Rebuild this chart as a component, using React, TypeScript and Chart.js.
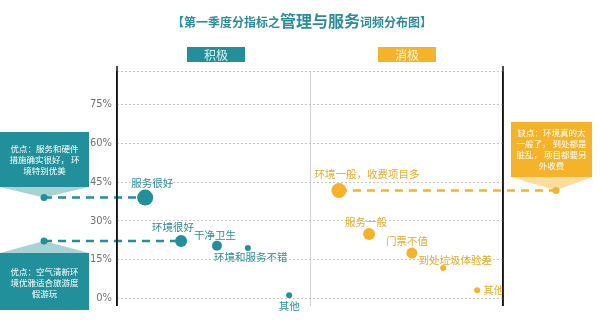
import React, { useEffect, useRef } from 'react';
import { Chart, registerables } from 'chart.js';

Chart.register(...registerables);

// ---------- data ----------
const positiveLabels = ['服务很好', '环境很好', '干净卫生', '环境和服务不错', '其他'];
const positiveX = [0.73, 1.66, 2.59, 3.39, 4.46];
const positiveY = [39, 22.2, 20.3, 19.5, 1.2];
const positiveWeight = [8, 6, 5, 3, 3];

const negativeLabels = ['环境一般，收费项目多', '服务一般', '门票不值', '到处垃圾体验差', '其他'];
const negativeX = [5.75, 6.53, 7.64, 8.45, 9.33];
const negativeY = [41.7, 24.9, 17.5, 11.7, 3.1];
const negativeWeight = [7.5, 6, 5.5, 3, 3];

const yTicks = [0, 15, 30, 45, 60, 75];
const yTop = 88;
const titleParts = ['【第一季度分指标之', '管理与服务', '词频分布图】'];
const legendNames = ['积极', '消极'];
const calloutPos1 = ['优点：服务和硬件', '措施确实很好， 环', '境特别优美'];
const calloutPos2 = ['优点：空气清新环', '境优雅适合旅游度', '假游玩'];
const calloutNeg = ['缺点：环境真的太', '一般了， 到处都是', '脏乱， 项目都要另', '外收费'];

// ---------- styles ----------
const TEAL = '#22909b';
const TEAL_TEXT = '#2a8d99';
const ORANGE = '#f5b32a';
const ORANGE_TEXT = '#e8ab2c';
const CJK = '"Noto Sans CJK SC", "Noto Sans", sans-serif';

// label offsets [dx, dy, align]
const posLabelOffsets: [number, number, CanvasTextAlign][] = [
  [7, -15, 'center'], [-8, -14, 'center'], [-2, -11, 'center'], [3, 9, 'center'], [0, 11, 'center'],
];
const negLabelOffsets: [number, number, CanvasTextAlign][] = [
  [28, -17, 'center'], [-3, -12, 'center'], [-5, -12, 'center'], [12, -8, 'center'], [6, 0, 'left'],
];

const overlayPlugin = {
  id: 'overlay',
  beforeDatasetsDraw(chart: any) {
    const ctx = chart.ctx;
    const p = chart.getDatasetMeta(0).data;
    const n = chart.getDatasetMeta(1).data;
    ctx.save();
    ctx.lineWidth = 2.5;
    ctx.setLineDash([8, 6]);
    ctx.strokeStyle = TEAL;
    [p[0], p[1]].forEach((pt: any) => {
      ctx.beginPath();
      ctx.moveTo(44, pt.y);
      ctx.lineTo(pt.x, pt.y);
      ctx.stroke();
    });
    ctx.strokeStyle = ORANGE;
    ctx.beginPath();
    ctx.moveTo(n[0].x, n[0].y);
    ctx.lineTo(556, n[0].y);
    ctx.stroke();
    ctx.setLineDash([]);
    ctx.fillStyle = TEAL;
    [p[0], p[1]].forEach((pt: any) => {
      ctx.beginPath();
      ctx.arc(44, pt.y, 3.5, 0, Math.PI * 2);
      ctx.fill();
    });
    ctx.fillStyle = ORANGE;
    ctx.beginPath();
    ctx.arc(556, n[0].y, 3.5, 0, Math.PI * 2);
    ctx.fill();
    ctx.restore();
  },
  afterDatasetsDraw(chart: any) {
    const ctx = chart.ctx;
    const p = chart.getDatasetMeta(0).data;
    const n = chart.getDatasetMeta(1).data;
    ctx.save();
    ctx.textBaseline = 'middle';
    ctx.font = `10.5px ${CJK}`;
    ctx.fillStyle = TEAL_TEXT;
    positiveLabels.forEach((lab, i) => {
      const [dx, dy, al] = posLabelOffsets[i];
      ctx.textAlign = al;
      ctx.fillText(lab, p[i].x + dx, p[i].y + dy);
    });
    ctx.fillStyle = ORANGE_TEXT;
    negativeLabels.forEach((lab, i) => {
      const [dx, dy, al] = negLabelOffsets[i];
      ctx.textAlign = al;
      ctx.fillText(lab, n[i].x + dx, n[i].y + dy);
    });

    // title
    const sizes = [12, 16, 12];
    let total = 0;
    const widths = titleParts.map((t, i) => {
      ctx.font = `bold ${sizes[i]}px ${CJK}`;
      const w = ctx.measureText(t).width;
      total += w;
      return w;
    });
    let x = 300 - total / 2 + 2;
    ctx.fillStyle = TEAL_TEXT;
    ctx.textAlign = 'left';
    ctx.textBaseline = 'alphabetic';
    titleParts.forEach((t, i) => {
      ctx.font = `bold ${sizes[i]}px ${CJK}`;
      ctx.fillText(t, x, 27);
      x += widths[i];
    });

    // legend boxes
    const boxes = [
      { x: 187, c: TEAL },
      { x: 378, c: ORANGE },
    ];
    boxes.forEach((b, i) => {
      ctx.fillStyle = b.c;
      ctx.fillRect(b.x, 47, 58, 15);
      ctx.fillStyle = 'rgba(255,255,255,0.85)';
      ctx.font = `12px ${CJK}`;
      ctx.textAlign = 'center';
      ctx.textBaseline = 'middle';
      ctx.fillText(legendNames[i], b.x + 29, 55);
    });

    // callouts
    const drawCallout = (
      bx: number, by: number, bw: number, bh: number, color: string, light: string,
      tri: [number, number][], lines: string[], ly: number, lh: number,
    ) => {
      ctx.fillStyle = light;
      ctx.beginPath();
      ctx.moveTo(tri[0][0], tri[0][1]);
      ctx.lineTo(tri[1][0], tri[1][1]);
      ctx.lineTo(tri[2][0], tri[2][1]);
      ctx.closePath();
      ctx.fill();
      ctx.fillStyle = color;
      ctx.fillRect(bx, by, bw, bh);
      ctx.fillStyle = '#ffffff';
      ctx.font = `8.5px ${CJK}`;
      ctx.textAlign = 'center';
      ctx.textBaseline = 'middle';
      lines.forEach((l, i) => ctx.fillText(l, bx + bw / 2, ly + i * lh));
    };
    const y0 = p[0].y;
    const y1 = p[1].y;
    const yn = n[0].y;
    drawCallout(0, 132, 89, 55, TEAL, 'rgba(34,144,155,0.4)',
      [[0, 187], [89, 187], [44, y0]], calloutPos1, 149, 11);
    drawCallout(0, 253, 89, 57, TEAL, 'rgba(34,144,155,0.4)',
      [[0, 253], [89, 253], [44, y1]], calloutPos2, 272, 11);
    drawCallout(511, 122, 81, 55, ORANGE, 'rgba(245,179,42,0.45)',
      [[511, 177], [592, 177], [556, yn]], calloutNeg, 133, 11);

    ctx.strokeStyle = '#111';
    ctx.lineWidth = 1.5;
    const a = chart.chartArea;
    [a.left, a.right].forEach((lx: number) => {
      ctx.beginPath();
      ctx.moveTo(lx, a.top - 5);
      ctx.lineTo(lx, a.bottom);
      ctx.stroke();
    });
    ctx.restore();
  },
};

export default function App() {
  const ref = useRef<HTMLCanvasElement>(null);
  useEffect(() => {
    if (!ref.current) return;
    const chart = new Chart(ref.current, {
      type: 'bubble',
      data: {
        datasets: [
          {
            label: legendNames[0],
            data: positiveX.map((x, i) => ({ x, y: positiveY[i], r: positiveWeight[i] })),
            backgroundColor: TEAL,
            borderWidth: 0,
          },
          {
            label: legendNames[1],
            data: negativeX.map((x, i) => ({ x, y: negativeY[i], r: negativeWeight[i] })),
            backgroundColor: ORANGE,
            borderWidth: 0,
          },
        ],
      },
      options: {
        responsive: false,
        animation: false,
        layout: { padding: { left: 0, right: 97, top: 71, bottom: 17 } },
        plugins: { legend: { display: false }, tooltip: { enabled: false } },
        scales: {
          x: {
            type: 'linear',
            min: 0,
            max: 10,
            afterBuildTicks: (s: any) => {
              s.ticks = [{ value: 0 }, { value: 5 }, { value: 10 }];
            },
            afterFit: (s: any) => {
              s.height = 0;
            },
            ticks: { display: false },
            grid: {
              drawTicks: false,
              color: (c: any) => (c.tick && c.tick.value === 5 ? '#cfcfcf' : '#111'),
              lineWidth: (c: any) => (c.tick && c.tick.value === 5 ? 1 : 1.5),
            },
            border: { display: false },
          },
          y: {
            type: 'linear',
            min: -3,
            max: yTop,
            afterBuildTicks: (s: any) => {
              s.ticks = [...yTicks, yTop].map((v) => ({ value: v }));
            },
            afterFit: (s: any) => {
              s.width = 117;
            },
            ticks: {
              padding: 5,
              color: '#707070',
              font: { family: '"DejaVu Sans Condensed", "Roboto", sans-serif', size: 11 },
              callback: (v: any) => (v === yTop ? '' : v + '%'),
            },
            grid: { drawTicks: false, color: '#c6c6c6', lineWidth: 1 },
            border: { display: false, dash: [2, 2] },
          },
        },
      },
      plugins: [overlayPlugin],
    } as any);
    return () => chart.destroy();
  }, []);
  return (
    <div style={{ position: 'absolute', left: 0, top: 0, width: 600, height: 323, background: '#fff' }}>
      <canvas ref={ref} width={600} height={323} />
    </div>
  );
}
